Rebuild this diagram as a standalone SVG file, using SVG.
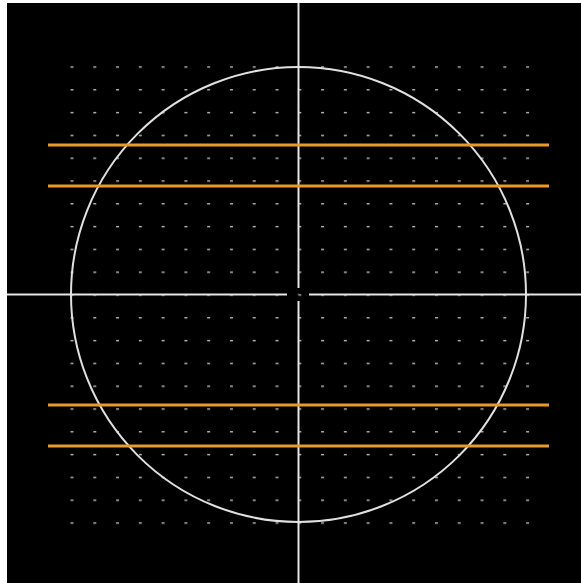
<svg xmlns="http://www.w3.org/2000/svg" width="581" height="583" viewBox="0 0 581 583">
  <style>
    .cross { stroke: #e6e6e6; stroke-width: 2; fill: none; }
    .scan { stroke: #e89a2c; stroke-width: 3; fill: none; }
    .ring { stroke: #e0e0e0; stroke-width: 2; fill: none; }
  </style>
  <defs>
    <pattern id="dots" patternUnits="userSpaceOnUse" x="70.5" y="66.3" width="22.78" height="22.8">
      <rect x="0" y="0" width="3" height="1.4" fill="#b8b8b8"/>
    </pattern>
  </defs>
  <rect x="0" y="0" width="581" height="583" fill="#ffffff"/>
  <rect id="background" x="7" y="3" width="574" height="580" fill="#000000"/>
  <g id="grid">
    <rect x="69" y="64" width="464" height="464" fill="url(#dots)"/>
  </g>
  <g id="circle">
    <circle cx="298.5" cy="294.5" r="227.5" class="ring"/>
  </g>
  <g id="crosshair">
    <line x1="7" y1="294.5" x2="287" y2="294.5" class="cross"/>
    <line x1="309" y1="294.5" x2="581" y2="294.5" class="cross"/>
    <line x1="298.5" y1="3" x2="298.5" y2="288" class="cross"/>
    <line x1="298.5" y1="301" x2="298.5" y2="583" class="cross"/>
    <rect x="297.5" y="293.5" width="1.5" height="1.5" fill="#555"/>
  </g>
  <g id="scanlines">
    <line x1="48" y1="145" x2="549" y2="145" class="scan"/>
    <line x1="48" y1="186" x2="549" y2="186" class="scan"/>
    <line x1="48" y1="405" x2="549" y2="405" class="scan"/>
    <line x1="48" y1="446" x2="549" y2="446" class="scan"/>
  </g>
</svg>
